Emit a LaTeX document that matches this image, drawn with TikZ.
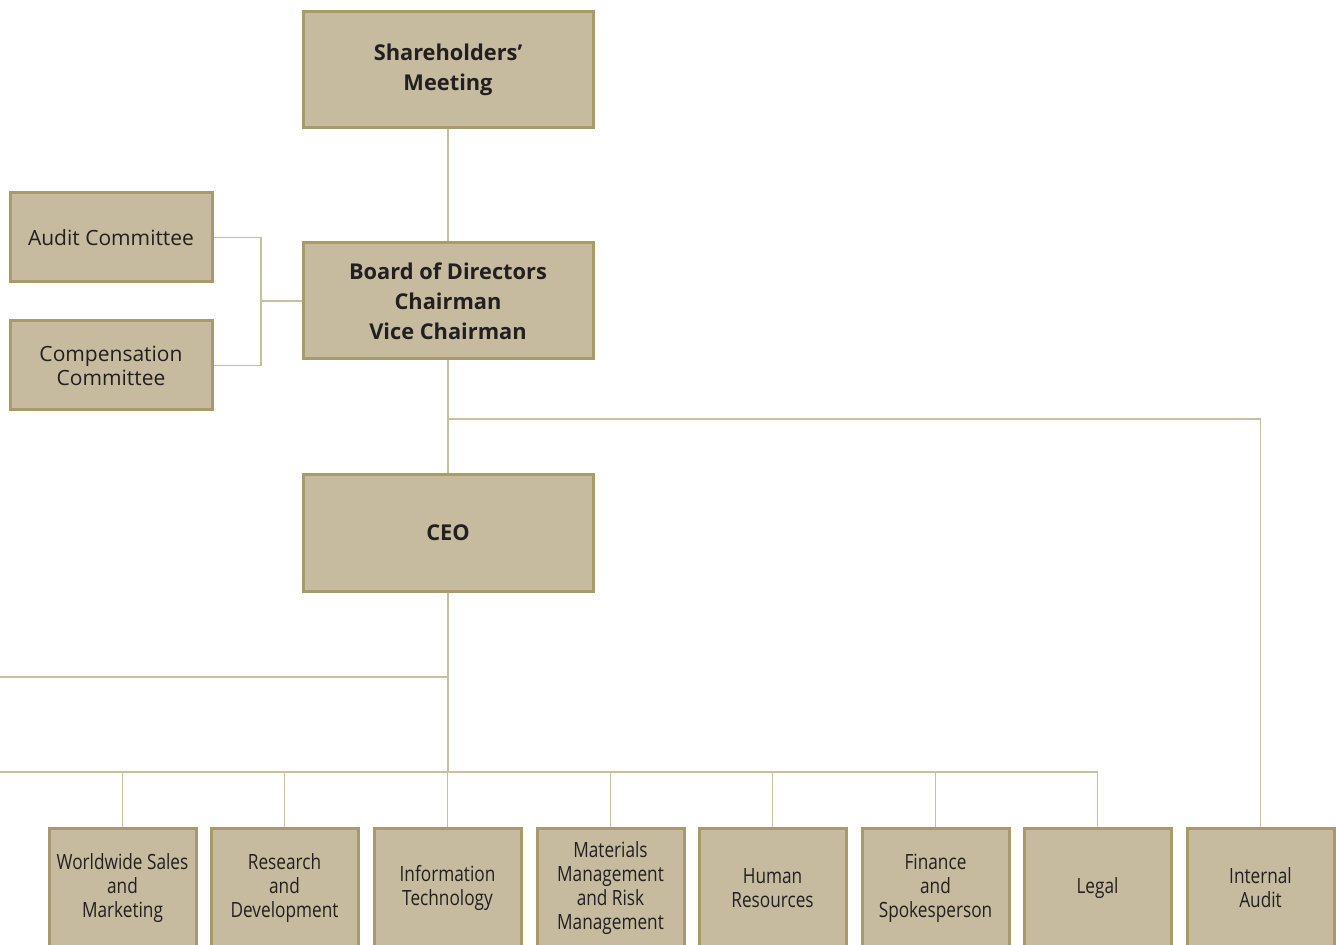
\documentclass[tikz,border=0pt]{standalone}
\usepackage{fontspec}
\setmainfont{Open Sans}
\newfontfamily\narrowfont[FakeStretch=0.82]{Open Sans}
\usepackage{tikz}
\definecolor{boxfill}{HTML}{C6BB9F}
\definecolor{boxline}{HTML}{A89A6B}
\definecolor{linkline}{HTML}{C9BE9F}
\definecolor{ink}{HTML}{231F20}

\begin{document}
\begin{tikzpicture}[x=0.5pt, y=-0.5pt,
  box/.style={rectangle, draw=boxline, fill=boxfill, line width=1.5pt, text=ink, align=center},
  topbox/.style={box, minimum width=145pt, minimum height=58pt, font=\bfseries\fontsize{10.9}{15}\selectfont},
  sidebox/.style={box, minimum width=101pt, minimum height=44.5pt, font=\fontsize{10.5}{12}\selectfont},
  unitbox/.style={box, minimum width=73.5pt, minimum height=60pt, inner xsep=1pt, font=\narrowfont\fontsize{10.5}{12}\selectfont},
  link/.style={draw=linkline, line width=0.8pt}]
  \useasboundingbox (0,0) rectangle (1336,945);

  % top of the chart
  \node (meeting) at (448,70) [topbox] {Shareholders'\\Meeting};
  \node (board) at (448,301) [topbox] {Board of Directors\\Chairman\\Vice Chairman};
  \node (ceo) at (448,533) [topbox] {CEO};
  \node (audit) at (111,237.5) [sidebox] {Audit Committee};
  \node (comp) at (111,365.5) [sidebox] {Compensation\\Committee};

  % units
  \node (sales) at (122.5,888) [unitbox] {Worldwide Sales\\and\\Marketing};
  \node (rnd) at (284.5,888) [unitbox] {Research\\and\\Development};
  \node (it) at (447.5,888) [unitbox] {Information\\Technology};
  \node (mat) at (610.5,888) [unitbox] {Materials\\Management\\and Risk\\Management};
  \node (hr) at (772.5,888) [unitbox] {Human\\Resources};
  \node (fin) at (935.5,888) [unitbox] {Finance\\and\\Spokesperson};
  \node (legal) at (1097.5,888) [unitbox] {Legal};
  \node (internal) at (1260.5,888) [unitbox] {Internal\\Audit};

  \coordinate (cmt) at (261,301);
  \coordinate (split) at (448,419);
  \coordinate (tee) at (448,677);
  \coordinate (stub) at (0,677);
  \coordinate (bus) at (448,772);
  \coordinate (busleft) at (0,772);

  \draw[link] (meeting) -- (board);
  \draw[link] (audit.east) -| (cmt) |- (comp.east);
  \draw[link] (cmt) -- (board.west);
  \draw[link] (board) -- (ceo);
  \draw[link] (split) -| (internal.north);
  \draw[link] (ceo) -- (bus);
  \draw[link] (stub) -- (tee);
  \draw[link] (busleft) -| (legal.north);
  \draw[link] (sales.north) -- (sales.north |- bus);
  \draw[link] (rnd.north) -- (rnd.north |- bus);
  \draw[link] (it.north) -- (it.north |- bus);
  \draw[link] (mat.north) -- (mat.north |- bus);
  \draw[link] (hr.north) -- (hr.north |- bus);
  \draw[link] (fin.north) -- (fin.north |- bus);
\end{tikzpicture}
\end{document}
